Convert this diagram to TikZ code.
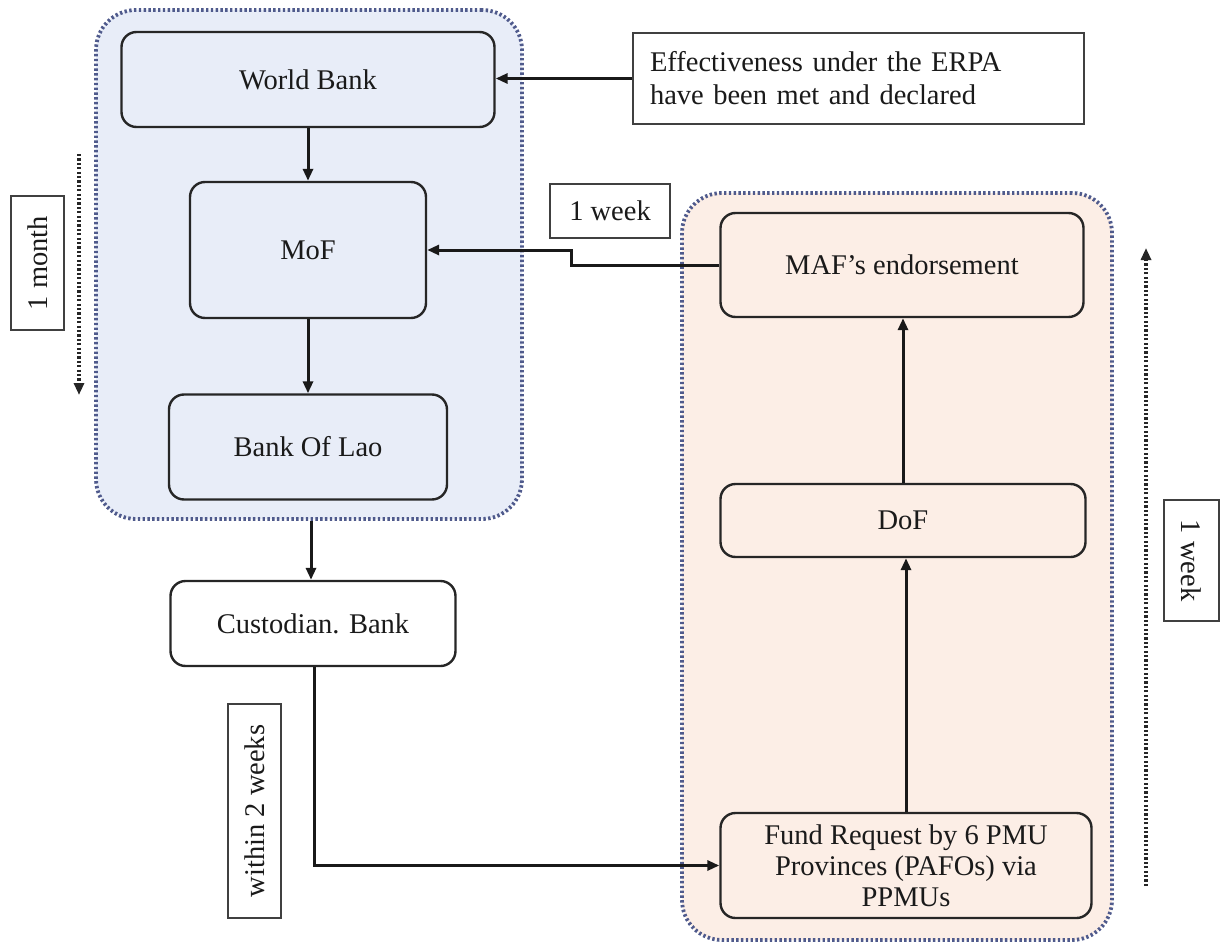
\documentclass[tikz,border=0pt]{standalone}
\usepackage{fontspec}
\setmainfont{Liberation Serif}
\usetikzlibrary{arrows.meta}
\definecolor{bluefill}{HTML}{E8EDF8}
\definecolor{orfill}{HTML}{FCEEE6}
\definecolor{dotcol}{HTML}{4F5A8C}
\definecolor{txt}{HTML}{1A1A1A}
\tikzset{
  box/.style={draw=black!85, line width=2.4pt, rounded corners=15pt, align=center,
    inner sep=0pt, text=txt, font=\fontsize{28.5}{33}\selectfont},
  tag/.style={draw=black!75, line width=2.2pt, fill=white, inner sep=0pt, text=txt,
    font=\fontsize{28.5}{33}\selectfont},
  group/.style={draw=dotcol, line width=3.8pt, dash pattern=on 2.4pt off 2.4pt,
    rounded corners=40pt, inner sep=0pt},
  conn/.style={line width=3pt, black!90, -{Triangle[length=12pt,width=10pt]}},
  timearrow/.style={line width=4pt, black!85, dash pattern=on 2.2pt off 2.2pt,
    -{Triangle[length=12pt,width=10pt]}}
}
\begin{document}
\begin{tikzpicture}[x=1pt,y=-1pt]
\useasboundingbox (0,0) rectangle (1221,942);
% containers
\node[group, fill=bluefill, minimum width=426pt, minimum height=509pt] (blue) at (309,264.5) {};
\node[group, fill=orfill, minimum width=430pt, minimum height=747pt] (orange) at (897,566.5) {};
% left boxes
\node[box, fill=bluefill, minimum width=373pt, minimum height=95pt] (wb) at (308,79.5) {World Bank};
\node[box, fill=bluefill, minimum width=236pt, minimum height=136pt] (mof) at (308,250) {MoF};
\node[box, fill=bluefill, minimum width=278pt, minimum height=105pt] (bol) at (308,447) {Bank Of Lao};
\node[box, fill=white, minimum width=285pt, minimum height=85pt] (cust) at (313,623.5) {Custodian. Bank};
% right boxes
\node[box, fill=orfill, minimum width=363pt, minimum height=104pt] (maf) at (902,265) {MAF’s endorsement};
\node[box, fill=orfill, minimum width=365pt, minimum height=73pt] (dof) at (903,520.5) {DoF};
\node[box, fill=orfill, minimum width=371pt, minimum height=105pt] (fund) at (906,865.5)
  {Fund Request by 6 PMU\\[-2pt]Provinces (PAFOs) via\\[-2pt]PPMUs};
% labels
\node[tag, minimum width=451pt, minimum height=91pt, align=left, text width=417pt,
  inner xsep=17pt] (eff) at (858.5,78.5)
  {Effectiveness under the ERPA\\have been met and declared};
\node[tag, minimum width=120pt, minimum height=54pt] (wk1) at (610,211) {1 week};
\node[tag, rotate=90, minimum width=134pt, minimum height=53pt] (month) at (37.5,263) {1 month};
\node[tag, rotate=90, minimum width=214pt, minimum height=53pt] (two) at (254.5,811) {within 2 weeks};
\node[tag, rotate=-90, minimum width=121pt, minimum height=55pt] (wk2) at (1191.5,560.5) {1 week};
% time arrows
\coordinate (m1) at (79,154);
\coordinate (m2) at (79,395);
\draw[timearrow] (m1) -- (m2);
\coordinate (w1) at (1146,886);
\coordinate (w2) at (1146,248);
\draw[timearrow] (w1) -- (w2);
% connectors
\draw[conn] (eff.west) -- (eff.west -| wb.east);
\draw[conn] (wb.south) -- (mof.north);
\draw[conn] (mof.south) -- (bol.north);
\draw[conn] (blue.south -| 311,0) -- (cust.north -| 311,0);
\draw[conn] (maf.west) -- ++(-148,0) |- (mof.east);
\draw[conn] (cust.south -| 314,0) |- (fund.west);
\draw[conn] (fund.north) -- (fund.north |- dof.south);
\draw[conn] (dof.north -| 903,0) -- (maf.south -| 903,0);
\end{tikzpicture}
\end{document}
